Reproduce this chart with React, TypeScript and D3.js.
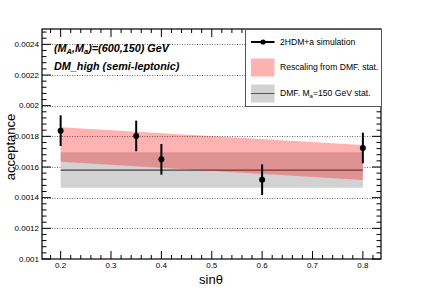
import React from 'react'
import * as d3 from 'd3'

// simulation points
const sinTheta = [0.2, 0.35, 0.4, 0.6, 0.8]
const acceptance = [0.001837, 0.0018025, 0.00165, 0.001517, 0.001724]
const accErr = [0.0001, 0.0001, 0.0001, 0.0001, 0.0001]

// rescaling band (pink), given at the ends
const bandX = [0.2, 0.8]
const rescaleHigh = [0.001859, 0.001744]
const rescaleLow = [0.001635, 0.001515]

// DMF Ma=150 GeV (gray)
const dmfCentral = [0.00158, 0.00158]
const dmfHigh = [0.001696, 0.001696]
const dmfLow = [0.001465, 0.001465]

const xTicks = [0.2, 0.3, 0.4, 0.5, 0.6, 0.7, 0.8]
const yTicks = [0.001, 0.0012, 0.0014, 0.0016, 0.0018, 0.002, 0.0022, 0.0024]
const yTickLabels = ['0.001', '0.0012', '0.0014', '0.0016', '0.0018', '0.002', '0.0022', '0.0024']

const W = 424
const H = 288
const m = { left: 42, right: 43, top: 29, bottom: 29 }
const font = 'Liberation Sans, Arial, Helvetica, sans-serif'

export default function App() {
    const x = d3.scaleLinear().domain([0.163, 0.836]).range([m.left, W - m.right])
    const y = d3.scaleLinear().domain([0.001, 0.0025]).range([H - m.bottom, m.top])
    const x0 = m.left
    const x1 = W - m.right
    const y0 = H - m.bottom
    const y1 = m.top

    const xMinor = d3.range(0.18, 0.8301, 0.02)
    const yMinor = d3.range(0.001, 0.00250001, 0.00004)

    const pinkPath = d3.area<number>()
        .x((d, i) => x(bandX[i]))
        .y0((d, i) => y(rescaleLow[i]))
        .y1((d, i) => y(rescaleHigh[i]))(bandX)
    const grayPath = d3.area<number>()
        .x((d, i) => x(bandX[i]))
        .y0((d, i) => y(dmfLow[i]))
        .y1((d, i) => y(dmfHigh[i]))(bandX)
    const centralLine = d3.line<number>()
        .x((d, i) => x(bandX[i]))
        .y((d, i) => y(dmfCentral[i]))(bandX)

    const lx = 245.5
    const ly = 29.5
    const lw = 136
    const lh = 77

    return (
        <div style={{ position: 'absolute', left: 0, top: 0 }}>
            <svg width={W} height={H} style={{ display: 'block', fontFamily: font }}>
                <rect width={W} height={H} fill="#fff" />

                {/* grid */}
                {yTicks.slice(1).map(t => (
                    <line key={'g' + t} x1={x0} x2={x1} y1={Math.round(y(t)) + 0.5} y2={Math.round(y(t)) + 0.5}
                        stroke="#444" strokeWidth={0.8} strokeDasharray="1,1.5" />
                ))}

                {/* bands */}
                <path d={grayPath || ''} fill="#d2d2d2" />
                <path d={centralLine || ''} fill="none" stroke="#444" strokeWidth={1.2} />
                <path d={pinkPath || ''} fill="rgb(255,0,0)" fillOpacity={0.3} />

                {/* points */}
                {sinTheta.map((s, i) => (
                    <g key={'p' + i}>
                        <line x1={x(s)} x2={x(s)} y1={y(acceptance[i] + accErr[i])} y2={y(acceptance[i] - accErr[i])}
                            stroke="#000" strokeWidth={2} />
                        <circle cx={x(s)} cy={y(acceptance[i])} r={3} fill="#000" />
                    </g>
                ))}

                {/* frame */}
                <rect x={x0} y={y1} width={x1 - x0} height={y0 - y1} fill="none" stroke="#000" strokeWidth={1.2} />

                {/* x ticks */}
                {xMinor.map(t => {
                    const major = xTicks.some(v => Math.abs(v - t) < 1e-6)
                    const len = major ? 8 : 4
                    return (
                        <g key={'xt' + t}>
                            <line x1={x(t)} x2={x(t)} y1={y0} y2={y0 - len} stroke="#000" strokeWidth={1} />
                            <line x1={x(t)} x2={x(t)} y1={y1} y2={y1 + len} stroke="#000" strokeWidth={1} />
                        </g>
                    )
                })}
                {xTicks.map(t => (
                    <text key={'xl' + t} x={x(t)} y={y0 + 9} fontSize={8} textAnchor="middle" fill="#000">{t}</text>
                ))}

                {/* y ticks */}
                {yMinor.map((t, i) => {
                    const major = i % 5 === 0
                    const len = major ? 9 : 4.5
                    const yy = y(t)
                    return (
                        <g key={'yt' + i}>
                            <line x1={x0} x2={x0 + len} y1={yy} y2={yy} stroke="#000" strokeWidth={1} />
                            <line x1={x1} x2={x1 - len} y1={yy} y2={yy} stroke="#000" strokeWidth={1} />
                        </g>
                    )
                })}
                {yTicks.map((t, i) => (
                    <text key={'yl' + t} x={x0 - 3} y={y(t) + 2.8} fontSize={8} textAnchor="end" fill="#000">{yTickLabels[i]}</text>
                ))}

                {/* axis titles */}
                <text x={211} y={284} fontSize={13} textAnchor="middle" fill="#000">sinθ</text>
                <text transform={`translate(15,${(y0 + y1) / 2 + 3}) rotate(-90)`} fontSize={13} textAnchor="middle" fill="#000">acceptance</text>

                {/* annotation */}
                <text x={54} y={52} fontSize={10.8} fontWeight="bold" fontStyle="italic" fill="#000">
                    (M<tspan fontSize={7.5} dy={2.2}>A</tspan><tspan dy={-2.2}>,M</tspan><tspan fontSize={7.5} dy={2.2}>a</tspan><tspan dy={-2.2}>)=(600,150) GeV</tspan>
                </text>
                <text x={54} y={70} fontSize={10.8} fontWeight="bold" fontStyle="italic" fill="#000">DM_high (semi-leptonic)</text>

                {/* legend */}
                <rect x={lx} y={ly} width={lw} height={lh} fill="#fff" stroke="#555" strokeWidth={1} />
                <line x1={251} x2={274.5} y1={42} y2={42} stroke="#000" strokeWidth={2} />
                <circle cx={263} cy={42} r={2.6} fill="#000" />
                <text x={280} y={45} fontSize={8.6} fill="#000">2HDM+a simulation</text>

                <rect x={251} y={58.5} width={23.5} height={18} fill="rgb(255,0,0)" fillOpacity={0.3} />
                <text x={280} y={70.3} fontSize={8.6} fill="#000">Rescaling from DMF. stat.</text>

                <rect x={251} y={84.5} width={23.5} height={18} fill="#d2d2d2" />
                <line x1={251} x2={274.5} y1={93.5} y2={93.5} stroke="#555" strokeWidth={1} />
                <text x={280} y={96.3} fontSize={8.6} fill="#000">
                    DMF. M<tspan fontSize={6} dy={1.5}>a</tspan><tspan dy={-1.5}>=150 GeV stat.</tspan>
                </text>
            </svg>
        </div>
    )
}
